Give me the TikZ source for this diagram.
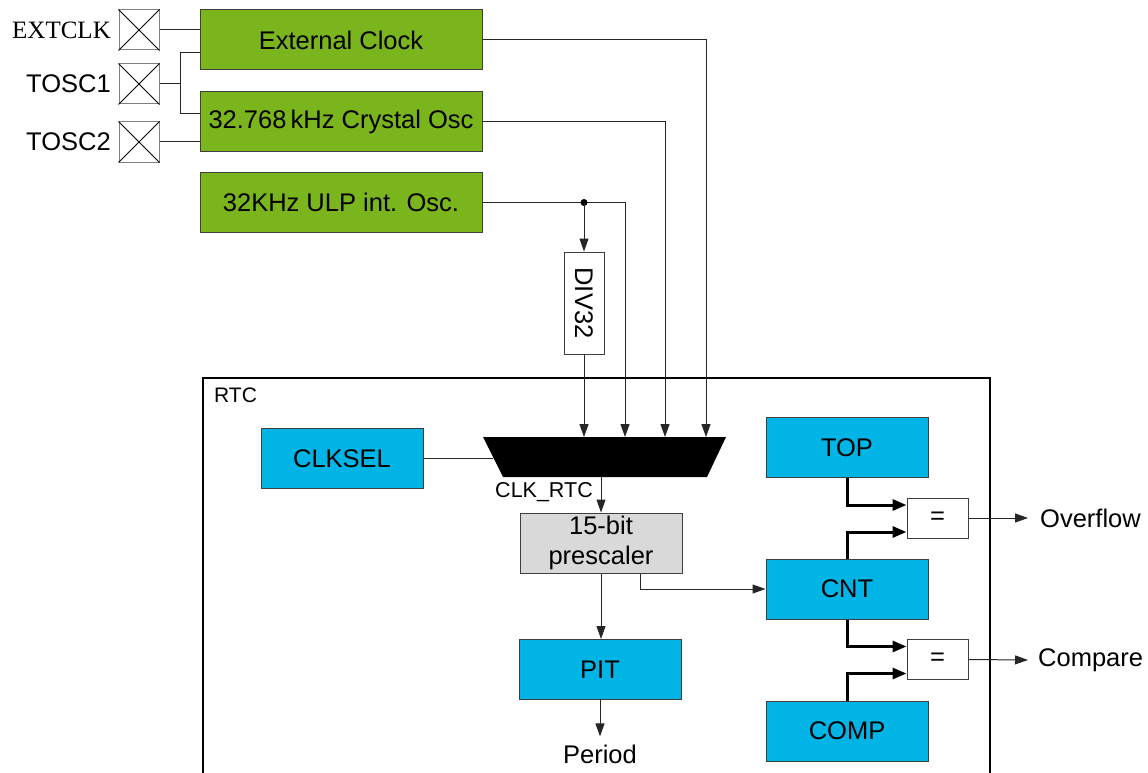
\documentclass[tikz,border=0pt]{standalone}
\usepackage{fontspec}
\setmainfont{Liberation Sans}
\newfontfamily\pinserif{Liberation Serif}
\usetikzlibrary{arrows.meta,positioning}
\definecolor{oscgreen}{HTML}{7AB51D}
\definecolor{rtcblue}{HTML}{00B4E6}
\definecolor{prescgray}{HTML}{D9D9D9}
\definecolor{edgegray}{HTML}{3F3F3F}

\begin{document}
\begin{tikzpicture}[x=1pt,y=-1pt]
\tikzset{
  txt/.style={font=\fontsize{25.5}{30}\selectfont},
  oscbox/.style={txt,draw=edgegray,line width=1pt,fill=oscgreen,minimum width=282pt,minimum height=60pt,inner sep=0pt},
  regbox/.style={txt,draw=edgegray,line width=1pt,fill=rtcblue,minimum width=162pt,minimum height=60pt,inner sep=0pt},
  pinbox/.style={draw=gray,line width=1pt,fill=white,minimum size=40pt,inner sep=0pt},
  eqbox/.style={txt,draw=edgegray,line width=1pt,fill=white,minimum width=61pt,minimum height=40pt,inner sep=0pt},
  label/.style={txt,inner sep=0pt},
  wire/.style={line width=1pt,draw=black!85},
  signal/.style={wire,-{Triangle[length=13pt,width=9pt]}},
  bus/.style={line width=3pt,-{Triangle[length=14pt,width=11pt]}}
}
\useasboundingbox (0,0) rectangle (1148,773);
\node[pinbox] (n_pin_ext) at (139,30) {};
\node[pinbox] (n_pin_t1) at (139,84) {};
\node[pinbox] (n_pin_t2) at (139,142) {};
\node[label,anchor=east,font=\pinserif\fontsize{25}{30}\selectfont] (n_lbl_ext) at (111,30) {EXTCLK};
\node[label,anchor=east] (n_lbl_t1) at (111,84) {TOSC1};
\node[label,anchor=east] (n_lbl_t2) at (111,142) {TOSC2};
\node[oscbox] (n_ext) at (341,40) {External Clock};
\node[oscbox] (n_xtal) at (341,121.5) {32.768\,kHz Crystal Osc};
\node[oscbox] (n_ulp) at (341,202.5) {32KHz ULP int. Osc.\hspace{6pt}};
\node[draw=edgegray,line width=1pt,fill=white,minimum width=40pt,minimum height=102pt,inner sep=0pt,txt] (n_div) at (584,303) {\rotatebox{-90}{DIV32}};
\coordinate (j_t1a) at (180,53);
\coordinate (j_t1b) at (180,114);
\coordinate (j_ulp) at (584,202.5);
\coordinate (m_in1) at (584,437);
\coordinate (m_in2) at (625,437);
\coordinate (m_in3) at (665,437);
\coordinate (m_in4) at (706,437);
\coordinate (m_sel) at (493,458);
\coordinate (m_out) at (601,477);
\fill (483,437) -- (726,437) -- (707,477) -- (503,477) -- cycle;
\draw[line width=2pt] (203,773) -- (203,378) -- (990,378) -- (990,773);
\node[label,anchor=west,font=\fontsize{21}{25}\selectfont] (n_rtc) at (214,395) {RTC};
\node[regbox] (n_clksel) at (342,458.5) {CLKSEL};
\node[label,anchor=east,font=\fontsize{21.5}{25}\selectfont] (n_clkrtc) at (593,492) {CLK\_RTC};
\node[draw=edgegray,line width=1pt,fill=prescgray,minimum width=162pt,minimum height=60pt,inner sep=0pt,align=center,txt] (n_pre) at (601,543) {15-bit\\prescaler};
\node[regbox] (n_pit) at (600,669.5) {PIT};
\node[label] (n_period) at (600,754) {Period};
\node[regbox] (n_top) at (847,447.5) {TOP};
\node[regbox] (n_cnt) at (847,589) {CNT};
\node[regbox] (n_comp) at (847,731) {COMP};
\node[eqbox] (n_eq1) at (937.5,518) {=};
\node[eqbox] (n_eq2) at (937.5,659.5) {=};
\node[label,anchor=west] (n_ovf) at (1040,518) {Overflow};
\node[label,anchor=west] (n_cmp) at (1038,660) {Compare};
\foreach \p in {n_pin_ext,n_pin_t1,n_pin_t2}
  \draw[line width=0.8pt] (\p.north west) -- (\p.south east) (\p.north east) -- (\p.south west);
\draw[wire] (n_pin_ext.east) -- (n_ext.west |- n_pin_ext.east);
\draw[wire] (n_pin_t1.east) -- (n_pin_t1.east -| j_t1a);
\draw[wire] (n_ext.west |- j_t1a) -- (j_t1a) -- (j_t1b) -- (n_xtal.west |- j_t1b);
\draw[wire] (n_pin_t2.east) -- (n_xtal.west |- n_pin_t2.east);
\draw[signal] (n_ext.east) -| (m_in4);
\draw[signal] (n_xtal.east) -| (m_in3);
\draw[signal] (n_ulp.east) -| (m_in2);
\fill (j_ulp) circle (3.5);
\draw[signal] (j_ulp) -- (n_div.north);
\draw[signal] (n_div.south) -- (m_in1);
\draw[wire] (n_clksel.east) -- (n_clksel.east -| m_sel);
\draw[signal] (m_out) -- (n_pre.north);
\draw[signal] (n_pre.south) -- (n_pre.south |- n_pit.north);
\draw[signal] ([xshift=39pt]n_pre.south) |- (n_cnt.west);
\draw[signal] (n_pit.south) -- ([yshift=8pt]n_period.north);
\draw[bus] (n_top.south) |- ([yshift=13pt]n_eq1.west);
\draw[bus] (n_cnt.north) |- ([yshift=-14pt]n_eq1.west);
\draw[bus] (n_cnt.south) |- ([yshift=13pt]n_eq2.west);
\draw[bus] (n_comp.north) |- ([yshift=-14pt]n_eq2.west);
\draw[signal] (n_eq1.east) -- ([xshift=-12pt]n_ovf.west);
\draw[signal] (n_eq2.east) -- ([xshift=-10pt]n_cmp.west);
\end{tikzpicture}
\end{document}
